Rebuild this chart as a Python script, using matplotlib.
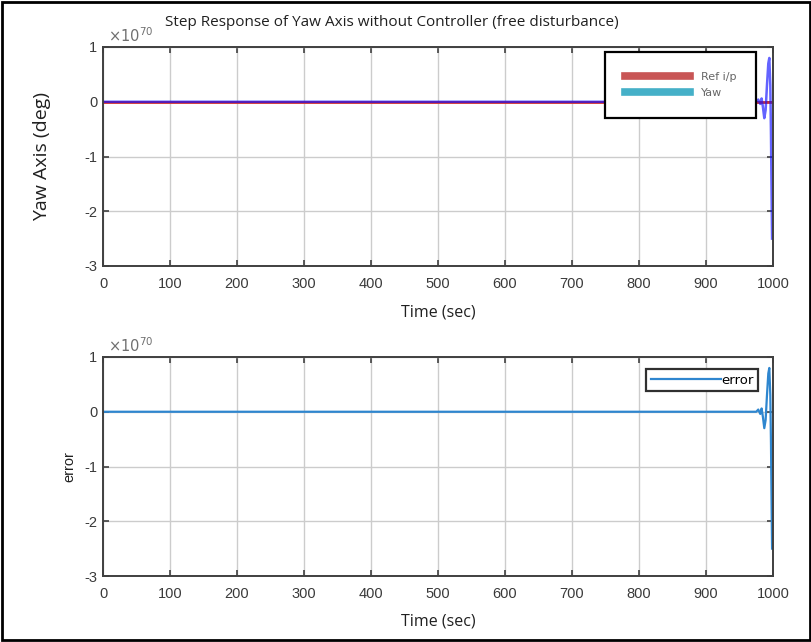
import matplotlib
matplotlib.use('Agg')
import matplotlib.pyplot as plt
from matplotlib.lines import Line2D
from matplotlib.patches import Rectangle

plt.rcParams['axes.unicode_minus'] = False

# simulation output, values in units of 1e70
time = [0, 970, 975, 978, 981, 983, 985, 987, 989, 991, 993, 994.5, 996, 997, 998, 998.6]
yaw = [0, 0, 0.0, 0.04, -0.04, 0.06, -0.1, -0.3, -0.15, 0.3, 0.7, 0.8, 0.3, -0.6, -1.8, -2.5]
error = [0, 0, 0.0, 0.04, -0.04, 0.06, -0.1, -0.3, -0.15, 0.3, 0.7, 0.8, 0.3, -0.6, -1.8, -2.5]
ref_time = [0, 1000]
ref_value = [0, 0]

xticks = list(range(0, 1001, 100))
yticks = [-3, -2, -1, 0, 1]

tick_color = '#3a3a3a'
grid_color = '#cccccc'

fig = plt.figure(figsize=(8.12, 6.42), dpi=100)
fig.patches.append(Rectangle((0.003, 0.003), 0.994, 0.994, transform=fig.transFigure,
                             fill=False, edgecolor='black', linewidth=2))

W, H = 812, 642
ax1 = fig.add_axes([103 / W, 1 - 266 / H, 670 / W, 219 / H])
ax2 = fig.add_axes([103 / W, 1 - 576 / H, 670 / W, 219 / H])


def style(ax):
    ax.set_xlim(0, 1000)
    ax.set_ylim(-3, 1)
    ax.set_xticks(xticks)
    ax.set_yticks(yticks)
    ax.grid(True, color=grid_color, linewidth=1)
    ax.set_axisbelow(True)
    ax.tick_params(direction='in', top=True, right=True, length=4, width=1.2,
                   labelsize=10.5, labelcolor=tick_color, color='#404040', pad=4)
    ax.tick_params(axis='x', pad=8)
    for lab in ax.get_xticklabels() + ax.get_yticklabels():
        lab.set_family('Liberation Sans')
    for sp in ax.spines.values():
        sp.set_color('#404040')
        sp.set_linewidth(1.4)
    ax.text(0.008, 1.01, r'$\times10^{70}$', transform=ax.transAxes, color='#707070',
            fontsize=10.5, ha='left', va='bottom', family='Liberation Sans')


style(ax1)
ax1.plot(ref_time, ref_value, color='#d03030', linewidth=2)
ax1.plot(time, yaw, color='#1010ff', linewidth=1.8, alpha=0.65)
ax1.set_xlabel('Time (sec)', fontsize=11.5, family='Open Sans', color='#202020', labelpad=10)
ax1.set_ylabel('Yaw Axis (deg)', fontsize=14, family='Open Sans', color='#202020', labelpad=24)
fig.text(165 / W, 1 - 22 / H, 'Step Response of Yaw Axis without Controller (free disturbance)',
         fontsize=11, family='Open Sans', color='#202020', ha='left', va='center')

handles = [Line2D([], [], color='#c85555', linewidth=5.5),
           Line2D([], [], color='#45b0c8', linewidth=5.5)]
leg1 = ax1.legend(handles, ['Ref i/p', 'Yaw'], loc='upper right',
                  bbox_to_anchor=(0.975, 0.977), fontsize=8, handlelength=5.8,
                  borderpad=1.8, labelspacing=0.55, handletextpad=1.0, fancybox=False,
                  framealpha=1, edgecolor='black', borderaxespad=0)
leg1.get_frame().set_linewidth(1.6)
for t in leg1.get_texts():
    t.set_color('#666666')

style(ax2)
ax2.plot(time, error, color='#2e86cf', linewidth=1.6)
ax2.set_xlabel('Time (sec)', fontsize=11.5, family='Open Sans', color='#202020', labelpad=9)
ax2.set_ylabel('error', fontsize=10.5, family='Liberation Sans', color='#202020', labelpad=6)
leg2 = ax2.legend(['error'], loc='upper right', bbox_to_anchor=(0.978, 0.945),
                  fontsize=9.5, handlelength=5.3, borderpad=0.35, handletextpad=0.05,
                  fancybox=False, framealpha=1, edgecolor='#303030', borderaxespad=0)
leg2.get_frame().set_linewidth(1.6)

fig.savefig('out.png', dpi=100)
